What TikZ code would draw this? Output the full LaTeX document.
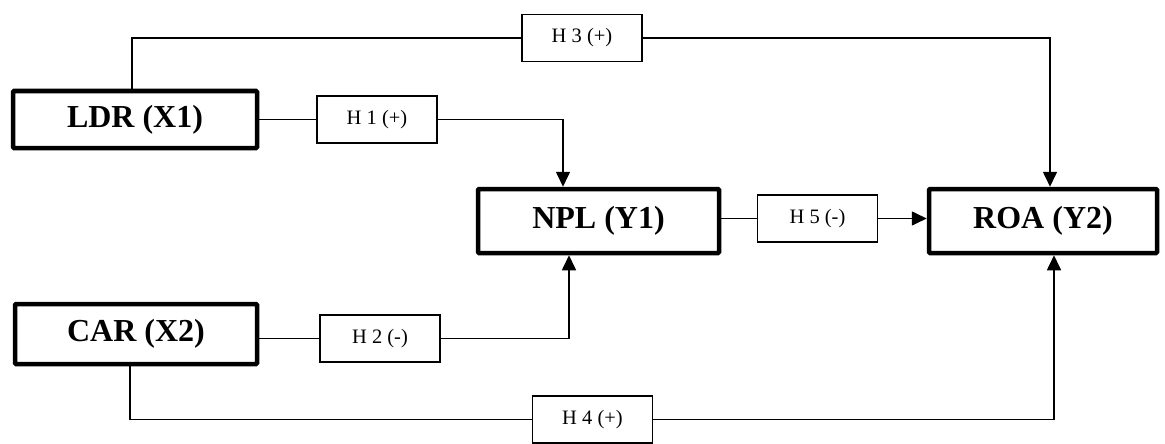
\documentclass[tikz,border=0pt]{standalone}
\usepackage{fontspec}
\setmainfont{Liberation Serif}
\usetikzlibrary{arrows.meta,positioning}
\begin{document}
\begin{tikzpicture}[x=1pt,y=-1pt,
  varbox/.style={draw, line width=4.5pt, rounded corners=1pt, inner sep=0pt,
    font=\bfseries\fontsize{32}{36}\selectfont},
  hypbox/.style={draw, line width=1.6pt, inner sep=0pt, minimum width=120pt,
    minimum height=47pt, font=\fontsize{20.5}{23}\selectfont},
  conn/.style={line width=1.6pt},
  arr/.style={conn, -{Triangle[length=15pt,width=14pt]}}]
\useasboundingbox (0,0) rectangle (1165,444);
% main variables
\node[varbox, minimum width=244pt, minimum height=57pt] (LDR) at (135,119.5) {LDR (X1)};
\node[varbox, minimum width=242pt, minimum height=60pt] (CAR) at (136,334) {CAR (X2)};
\node[varbox, minimum width=241pt, minimum height=64pt] (NPL) at (598.5,221) {NPL (Y1)};
\node[varbox, minimum width=228pt, minimum height=64pt] (ROA) at (1043,221) {ROA (Y2)};
% hypotheses
\node[hypbox] (H1) at (377,119.5) {H 1 (+)};
\node[hypbox] (H2) at (380,338.5) {H 2 (-)};
\node[hypbox] (H3) at (582,38) {H 3 (+)};
\node[hypbox] (H4) at (592.5,419.5) {H 4 (+)};
\node[hypbox] (H5) at (817.5,218.5) {H 5 (-)};
% connectors
\draw[conn] ([xshift=-3pt]LDR.north) |- (H3.west);
\draw[arr] (H3.east) -| ([xshift=7pt]ROA.north);
\draw[conn] (LDR.east |- H1.west) -- (H1.west);
\draw[arr] (H1.east) -| ([xshift=-35.5pt]NPL.north);
\draw[conn] (CAR.east |- H2.west) -- (H2.west);
\draw[arr] (H2.east) -| ([xshift=-29.5pt]NPL.south);
\draw[conn] ([xshift=-6pt]CAR.south) |- (H4.west);
\draw[arr] (H4.east) -| ([xshift=11pt]ROA.south);
\draw[conn] (NPL.east |- H5.west) -- (H5.west);
\draw[arr] (H5.east) -- (ROA.west |- H5.east);
\end{tikzpicture}
\end{document}
